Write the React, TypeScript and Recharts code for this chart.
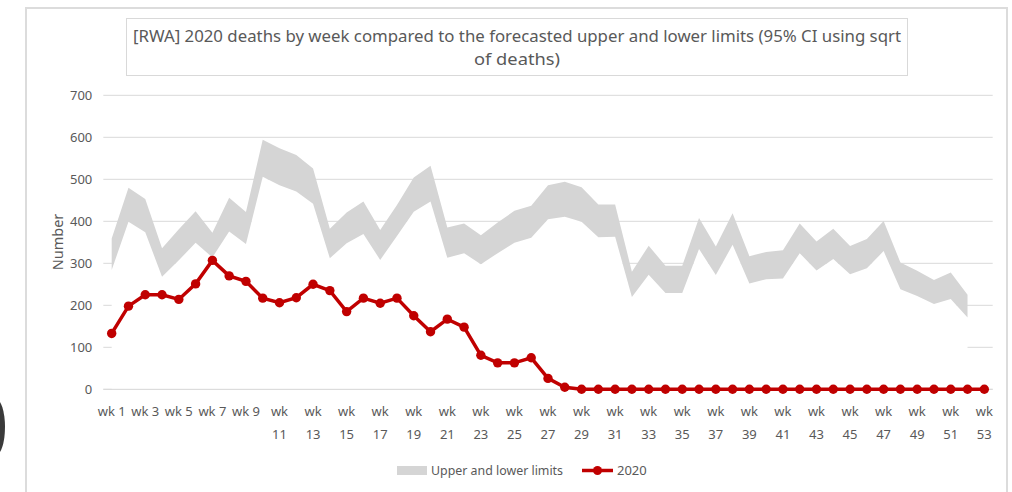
import React from 'react';
import { ComposedChart, Area, Line, XAxis, YAxis, CartesianGrid, ReferenceLine } from 'recharts';

const weeks: string[] = [
  'wk 1', 'wk 2', 'wk 3', 'wk 4', 'wk 5', 'wk 6', 'wk 7', 'wk 8', 'wk 9', 'wk 10',
  'wk 11', 'wk 12', 'wk 13', 'wk 14', 'wk 15', 'wk 16', 'wk 17', 'wk 18', 'wk 19', 'wk 20',
  'wk 21', 'wk 22', 'wk 23', 'wk 24', 'wk 25', 'wk 26', 'wk 27', 'wk 28', 'wk 29', 'wk 30',
  'wk 31', 'wk 32', 'wk 33', 'wk 34', 'wk 35', 'wk 36', 'wk 37', 'wk 38', 'wk 39', 'wk 40',
  'wk 41', 'wk 42', 'wk 43', 'wk 44', 'wk 45', 'wk 46', 'wk 47', 'wk 48', 'wk 49', 'wk 50',
  'wk 51', 'wk 52', 'wk 53',
];

const upperLimit: (number | null)[] = [
  359, 480, 453, 336, 381, 424, 373, 456, 422, 594,
  574, 558, 526, 382, 421, 447, 379, 439, 504, 532,
  385, 395, 367, 397, 425, 437, 486, 494, 481, 440,
  440, 280, 342, 294, 294, 408, 340, 419, 317, 327,
  331, 395, 352, 382, 341, 358, 401, 302, 282, 260,
  278, 225, null,
];

const lowerLimit: (number | null)[] = [
  284, 399, 374, 268, 307, 349, 314, 376, 346, 506,
  486, 471, 442, 312, 348, 370, 308, 365, 423, 447,
  313, 324, 298, 324, 349, 361, 405, 411, 399, 362,
  363, 220, 273, 229, 229, 334, 272, 344, 252, 262,
  264, 324, 283, 310, 274, 288, 329, 238, 222, 203,
  215, 171, null,
];

const deaths2020: number[] = [
  133, 198, 225, 225, 214, 251, 307, 270, 257, 217,
  206, 218, 250, 235, 185, 217, 205, 217, 175, 137,
  167, 148, 81, 63, 63, 75, 26, 5, 0, 0,
  0, 0, 0, 0, 0, 0, 0, 0, 0, 0,
  0, 0, 0, 0, 0, 0, 0, 0, 0, 0,
  0, 0, 0,
];

const yTicks: number[] = [0, 100, 200, 300, 400, 500, 600, 700];

const titleLine1 = '[RWA] 2020 deaths by week compared to the forecasted upper and lower limits (95% CI using sqrt';
const titleLine2 = 'of deaths)';
const yAxisTitle = 'Number';
const legendBand = 'Upper and lower limits';
const legendLine = '2020';

const data = weeks.map((w, i) => ({
  week: w,
  lower: lowerLimit[i],
  upper: upperLimit[i],
  deaths: deaths2020[i],
}));

const FONT = '"Noto Sans", "Open Sans", sans-serif';
const TEXT = '#595959';
const GRID = '#d9d9d9';
const BAND = '#d5d5d5';
const RED = '#c00000';

const XTick = (props: any) => {
  const { x, y, payload } = props;
  const label: string = String(payload.value);
  const parts = label.split(' ');
  const num = parseInt(parts[1], 10);
  if (num < 10) {
    return (
      <text x={x} y={y + 27} textAnchor="middle" fill={TEXT} fontSize={13} fontFamily={FONT}>
        {label}
      </text>
    );
  }
  return (
    <text textAnchor="middle" fill={TEXT} fontSize={13} fontFamily={FONT}>
      <tspan x={x} y={y + 27}>{parts[0]}</tspan>
      <tspan x={x} y={y + 50}>{parts[1]}</tspan>
    </text>
  );
};

export default function App() {
  return (
    <div style={{ position: 'absolute', left: 0, top: 0, width: 1012, height: 492, background: '#fff', overflow: 'hidden' }}>
      <div
        style={{
          position: 'absolute', left: 25, top: 7, width: 983, height: 500,
          border: '2px solid #dcdcdc', boxSizing: 'border-box',
        }}
      />
      <div style={{ position: 'absolute', left: 0, top: 0 }}>
        <ComposedChart
          width={1012}
          height={492}
          data={data}
          margin={{ top: 95.3, right: 19.3, bottom: 42.7, left: 43.3 }}
        >
          <CartesianGrid horizontal vertical={false} stroke={GRID} strokeWidth={1} />
          <XAxis
            dataKey="week"
            type="category"
            interval={1}
            axisLine={false}
            tickLine={false}
            tickSize={0}
            tickMargin={0}
            height={60}
            padding={{ left: 8.39, right: 8.39 }}
            tick={<XTick />}
          />
          <YAxis
            domain={[0, 700]}
            ticks={yTicks}
            axisLine={false}
            tickLine={false}
            tickSize={0}
            tickMargin={11}
            width={60}
            tick={{ fill: TEXT, fontSize: 13, fontFamily: FONT }}
          />
          <Area
            dataKey="lower"
            stroke="none"
            fill="#ffffff"
            fillOpacity={1}
            isAnimationActive={false}
            dot={false}
            activeDot={false}
          />
          <Area
            dataKey={(d: any) => (d.lower == null || d.upper == null ? null : [d.lower, d.upper])}
            stroke="none"
            fill={BAND}
            fillOpacity={1}
            isAnimationActive={false}
            dot={false}
            activeDot={false}
          />
          <ReferenceLine y={0} stroke={GRID} strokeWidth={1} />
          <Line
            dataKey="deaths"
            stroke={RED}
            strokeWidth={3.5}
            dot={{ r: 4.7, fill: RED, stroke: RED, strokeWidth: 0 }}
            activeDot={false}
            isAnimationActive={false}
          />
        </ComposedChart>
      </div>
      <svg
        width={1012}
        height={492}
        style={{ position: 'absolute', left: 0, top: 0, pointerEvents: 'none' }}
      >
        <ellipse cx={-4} cy={427} rx={9} ry={28} fill="#3a3a3a" />
        <rect x={126.5} y={18.5} width={781} height={57} fill="#fff" stroke={GRID} strokeWidth={1} />
        <text x={517} y={42} textAnchor="middle" fill={TEXT} fontSize={16} fontFamily={FONT}
          textLength={768} lengthAdjust="spacingAndGlyphs">
          {titleLine1}
        </text>
        <text x={517} y={65} textAnchor="middle" fill={TEXT} fontSize={16} fontFamily={FONT}
          textLength={86} lengthAdjust="spacingAndGlyphs">
          {titleLine2}
        </text>
        <text
          x={57}
          y={242}
          transform="rotate(-90 57 242)"
          textAnchor="middle"
          dominantBaseline="central"
          fill={TEXT}
          fontSize={14.5}
          fontFamily={FONT}
        >
          {yAxisTitle}
        </text>
        <rect x={397} y={466} width={30} height={9} fill={BAND} />
        <text x={431} y={475} fill={TEXT} fontSize={13} fontFamily={FONT}
          textLength={132} lengthAdjust="spacingAndGlyphs">{legendBand}</text>
        <line x1={582} x2={613} y1={470.5} y2={470.5} stroke={RED} strokeWidth={3.5} />
        <circle cx={597.5} cy={470.5} r={4.5} fill={RED} />
        <text x={617} y={475} fill={TEXT} fontSize={13} fontFamily={FONT}>{legendLine}</text>
      </svg>
    </div>
  );
}
